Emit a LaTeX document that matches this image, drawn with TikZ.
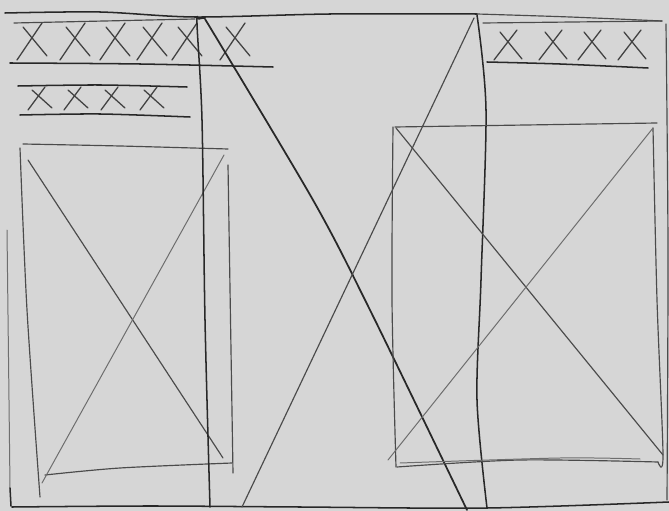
\documentclass[tikz,border=0pt]{standalone}
\usepackage{xcolor}
\usepackage{tikz}
\definecolor{paper}{RGB}{214,214,214}
\definecolor{lead}{RGB}{40,40,40}
\tikzset{
  pencil/.style={draw=lead, line width=1.3pt, line cap=round, line join=round},
  softpencil/.style={draw=lead!80!paper, line width=1.0pt, line cap=round, line join=round},
  faintpencil/.style={draw=lead!60!paper, line width=0.85pt, line cap=round, line join=round},
  crossmark/.style={draw=lead!85!paper, line width=1.1pt, line cap=round},
}

\begin{document}
\begin{tikzpicture}[x=0.03cm, y=-0.03cm]
        % Paper
        \fill[paper] (0,0) rectangle (669,511);
        \useasboundingbox (0,0) rectangle (669,511);

        % Outer frame
        \draw[pencil] plot[smooth] coordinates {(5,13) (100,12) (195,17) (330,14) (477,14)};
        \draw[softpencil] plot[smooth] coordinates {(477,14) (570,17) (662,21)};
        \draw[softpencil] plot[smooth] coordinates {(666,24) (668,250) (667,500)};
        \draw[pencil] plot[smooth] coordinates {(12,507) (150,506) (300,507) (487,508) (669,502)};
        \draw[faintpencil] plot[smooth] coordinates {(7,230) (9,400) (10,488)};
        \draw[pencil] (10,488) -- (11,506);

        % Left header, two rows of placeholder text
        \draw[softpencil] (14,23) -- (195,19);
        \foreach \cx in {32,75,115,152,187,235}
            \draw[crossmark] (\cx-15,60) -- (\cx+10,23) (\cx-9,27) -- (\cx+15,56);
        \draw[pencil] plot[smooth] coordinates {(10,63) (140,64) (273,67)};
        \draw[pencil] plot[smooth] coordinates {(18,86) (100,85) (187,87)};
        \foreach \cx in {40,76,113,152}
            \draw[crossmark] (\cx-12,110) -- (\cx+5,87) (\cx-8,90) -- (\cx+12,108);
        \draw[pencil] plot[smooth] coordinates {(20,115) (100,114) (190,117)};

        % Right header
        \draw[softpencil] (483,23) -- (662,21);
        \foreach \cx in {508,553,592,632}
            \draw[crossmark] (\cx-14,60) -- (\cx+9,30) (\cx-8,32) -- (\cx+14,59);
        \draw[pencil] plot[smooth] coordinates {(487,62) (560,64) (648,68)};

        % Left image box
        \draw[softpencil] plot[smooth] coordinates {(23,144) (120,146) (228,149)};
        \draw[softpencil] plot[smooth] coordinates {(20,148) (27,310) (40,497)};
        \draw[softpencil] (228,165) -- (233,473);
        \draw[softpencil] plot[smooth] coordinates {(45,475) (120,468) (232,463)};
        \draw[softpencil] (28,160) -- (223,458);
        \draw[faintpencil] (224,155) -- (42,483);

        % Centre image box
        \draw[pencil] plot[smooth] coordinates {(205,18) (199,19) (197,24) (202,120) (205,320) (210,507)};
        \draw[pencil] plot[smooth] coordinates {(477,15) (486,110) (481,280) (477,400) (487,508)};
        \draw[pencil, line width=1.5pt] plot[smooth] coordinates {(205,19) (313,200) (370,310) (467,510)};
        \draw[softpencil] (474,18) -- (242,507);

        % Right image box
        \draw[softpencil] (395,127) -- (657,123);
        \draw[softpencil] plot[smooth] coordinates {(393,127) (392,300) (396,467)};
        \draw[softpencil] plot[smooth] coordinates {(653,128) (657,300) (663,455) (658,462)};
        \draw[softpencil] plot[smooth] coordinates {(397,467) (520,460) (658,462)};
        \draw[faintpencil] plot[smooth] coordinates {(400,463) (560,458) (640,459)};
        \draw[softpencil] (396,128) -- (663,455);
        \draw[faintpencil] (653,128) -- (388,460);
\end{tikzpicture}
\end{document}
